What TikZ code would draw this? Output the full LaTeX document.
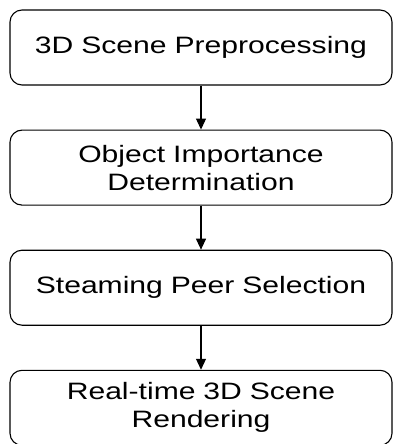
\documentclass[tikz,border=0pt]{standalone}
\usepackage{fontspec}
\newfontfamily\boxfont[FakeStretch=1.27]{Liberation Sans}
\usetikzlibrary{arrows.meta, positioning}

\begin{document}
\begin{tikzpicture}[
    node distance=44pt,
    stagebox/.style={rectangle, draw=black, line width=1.1pt, rounded corners=12pt,
                     align=center, text width=370pt, inner sep=0pt,
                     minimum width=382pt, minimum height=75pt,
                     font=\boxfont\fontsize{23.7}{28}\selectfont},
    arr/.style={-{Triangle[width=10pt, length=11pt]}, line width=1.1pt, draw=black}
]

%% ===== FRAME =====
\useasboundingbox (0,0) rectangle (393pt,-444pt);

%% ===== PIPELINE (top to bottom) =====
\node[stagebox] (prep) at (201pt,-47.5pt) {3D Scene Preprocessing};
\node[stagebox, below=of prep] (imp)  {Object Importance\\Determination};
\node[stagebox, below=of imp]  (peer) {Steaming Peer Selection};
\node[stagebox, below=of peer] (rend) {Real-time 3D Scene\\Rendering};

%% ===== ARROWS =====
\draw[arr] (prep) -- (imp);
\draw[arr] (imp)  -- (peer);
\draw[arr] (peer) -- (rend);

\end{tikzpicture}
\end{document}
